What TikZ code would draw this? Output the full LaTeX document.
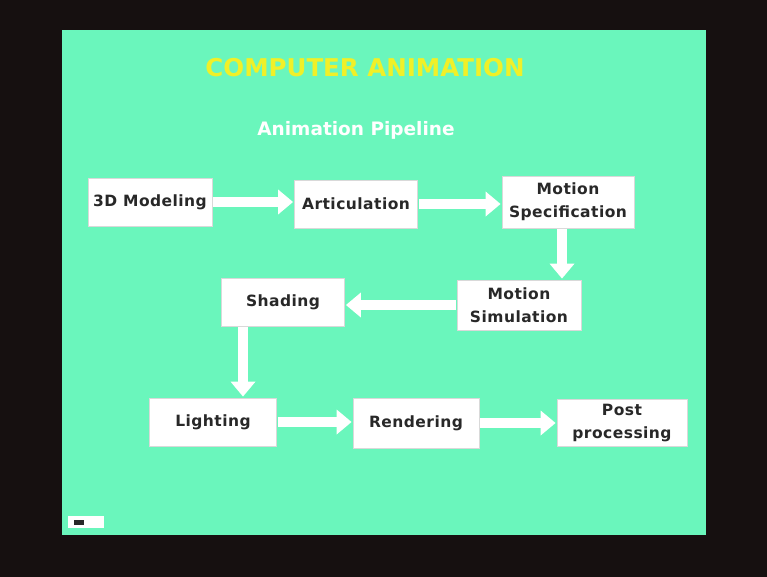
\documentclass[tikz,border=0pt]{standalone}
\usepackage{fontspec}
\setmainfont{DejaVu Sans}
\newfontfamily\boxfont[LetterSpace=3]{DejaVu Sans}
\usetikzlibrary{arrows.meta}
\definecolor{frame}{RGB}{22,16,16}
\definecolor{slide}{RGB}{106,246,188}
\definecolor{ttl}{RGB}{240,240,40}
\definecolor{txt}{RGB}{40,40,40}
\tikzset{
  box/.style={fill=white, draw=white!85!black, line width=0.8pt, minimum height=48pt, align=center, font=\boxfont\bfseries\fontsize{15.5}{23}\selectfont, text=txt, inner sep=2pt},
  flow/.style={draw=white, line width=10pt, -{Triangle[length=15pt,width=24pt]}, shorten <=1pt, shorten >=1pt}
}
\begin{document}
\begin{tikzpicture}[x=1pt,y=-1pt]
\fill[frame] (0,0) rectangle (767,577);
\useasboundingbox (0,0) rectangle (767,577);
\fill[slide] (62,30) rectangle (706,535);
\node[text=ttl, font=\bfseries\fontsize{24.5}{28}\selectfont] (title) at (365,68) {COMPUTER ANIMATION};
\node[text=white, font=\bfseries\fontsize{18.5}{22}\selectfont] (sub) at (356,130) {Animation Pipeline};
\node[box, minimum width=124pt] (mod) at (150,202) {3D Modeling};
\node[box, minimum width=123pt] (art) at (356,204) {Articulation};
\node[box, minimum width=132pt, minimum height=52pt] (spec) at (568,202) {Motion\\Specification};
\node[box, minimum width=123pt] (shad) at (283,302) {Shading};
\node[box, minimum width=124pt, minimum height=50pt] (sim) at (519,305) {Motion\\Simulation};
\node[box, minimum width=127pt] (light) at (213,422) {Lighting};
\node[box, minimum width=126pt, minimum height=50pt] (rend) at (416,423) {Rendering};
\node[box, minimum width=130pt, minimum height=47pt] (post) at (622,423) {Post\\processing};
\draw[flow] (mod.east) -- (art.west |- mod.east);
\draw[flow] (art.east) -- (spec.west |- art.east);
\draw[flow] ([xshift=-6pt]spec.south) -- ([xshift=-6pt]spec.south |- sim.north);
\draw[flow] (sim.west) -- (shad.east |- sim.west);
\draw[flow] ([xshift=-40pt]shad.south) -- ([xshift=-40pt]shad.south |- light.north);
\draw[flow] (light.east) -- (rend.west |- light.east);
\draw[flow] (rend.east) -- (post.west |- rend.east);
\node[fill=white, minimum width=36pt, minimum height=12pt, inner sep=0pt] (icon) at (86,522) {};
\fill[txt] (74,520) rectangle (84,525);
\end{tikzpicture}
\end{document}
